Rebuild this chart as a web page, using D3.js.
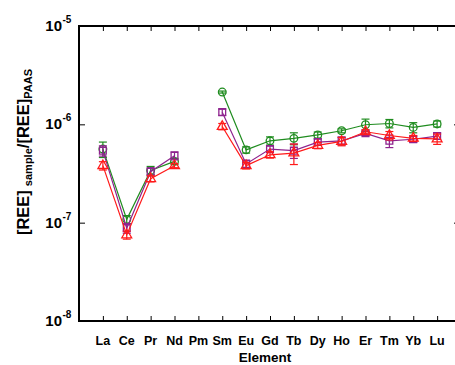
<!DOCTYPE html>
<html>
<head>
<meta charset="utf-8">
<script src="https://cdn.jsdelivr.net/npm/d3@7"></script>
<style>
    html, body { margin: 0; padding: 0; background: #fff; overflow: hidden; }
    svg { display: block; }
    text { font-family: "Liberation Sans", Arial, sans-serif; font-weight: bold; }
</style>
</head>
<body>
<div id="chart"></div>
<script>
// REE elements along the x axis
var elements = ["La", "Ce", "Pr", "Nd", "Pm", "Sm", "Eu", "Gd", "Tb", "Dy", "Ho", "Er", "Tm", "Yb", "Lu"];

// normalised values, in units of 1e-7 (Pm has no data)
var greenValues = [5.6, 1.08, 3.4, 4.2, null, 21.3, 5.5, 6.8, 7.2, 7.8, 8.6, 9.9, 10.2, 9.3, 10.1];
var greenErrors = [1.0, 0.10, 0.33, 0.30, null, 0.5, 0.4, 0.65, 1.0, 0.55, 0.4, 1.4, 1.0, 1.1, 0.7];
var purpleValues = [5.4, 0.88, 3.3, 4.8, null, 13.3, 3.95, 5.6, 5.4, 6.6, 6.8, 8.1, 6.8, 7.05, 7.6];
var purpleErrors = [0.65, 0.10, 0.32, 0.45, null, 0.95, 0.38, 0.4, 0.9, 0.47, 0.65, 0.4, 1.0, 0.5, 0.55];
var redValues = [3.8, 0.75, 2.8, 3.8, null, 9.5, 3.8, 4.9, 5.1, 6.1, 6.7, 8.4, 7.7, 7.2, 7.1];
var redErrors = [0.37, 0.07, 0.2, 0.18, null, 0.7, 0.28, 0.36, 1.2, 0.45, 0.65, 0.4, 0.75, 0.5, 0.85];

var yTicks = [-8, -7, -6, -5];

function init() {
    var w = 455;
    var h = 365;
    var left = 79, top = 26, bottom = 321, right = 461;
    var unit = 1e-7;

    var svg = d3.select("#chart")
        .append("svg")
        .attr("width", w)
        .attr("height", h);

    var xScale = d3.scaleLinear()
        .domain([-1, elements.length])
        .range([left, right]);

    var yScale = d3.scaleLog()
        .domain([1e-8, 1e-5])
        .range([bottom, top]);

    var decades = yTicks.map(function (e) { return Math.pow(10, e); });

    // ticks on all four sides, pointing inward
    svg.append("g")
        .attr("transform", "translate(0," + bottom + ")")
        .call(d3.axisTop(xScale).tickValues(d3.range(elements.length)).tickSize(5).tickFormat(""))
        .call(function (g) { g.select(".domain").remove(); });
    svg.append("g")
        .attr("transform", "translate(0," + top + ")")
        .call(d3.axisBottom(xScale).tickValues(d3.range(elements.length)).tickSize(5).tickFormat(""))
        .call(function (g) { g.select(".domain").remove(); });
    svg.append("g")
        .attr("transform", "translate(" + left + ",0)")
        .call(d3.axisRight(yScale).tickValues(decades).tickSize(6).tickFormat(""))
        .call(function (g) { g.select(".domain").remove(); });
    svg.append("g")
        .attr("transform", "translate(" + right + ",0)")
        .call(d3.axisLeft(yScale).tickValues(decades).tickSize(7).tickFormat(""))
        .call(function (g) { g.select(".domain").remove(); });

    svg.selectAll(".tick line").attr("stroke", "#000").attr("stroke-width", 1);

    // frame
    svg.append("rect")
        .attr("x", left)
        .attr("y", top)
        .attr("width", right - left)
        .attr("height", bottom - top)
        .attr("fill", "none")
        .attr("stroke", "#000")
        .attr("stroke-width", 2);

    // y tick labels 10^n
    var yLab = svg.selectAll(".y-label")
        .data(yTicks)
        .enter()
        .append("text")
        .attr("class", "y-label")
        .attr("x", 62)
        .attr("y", function (d) { return yScale(Math.pow(10, d)) + 5; })
        .attr("text-anchor", "end")
        .attr("font-size", 15);
    yLab.append("tspan").text("10");
    yLab.append("tspan")
        .attr("x", 62.5)
        .attr("dy", -8)
        .attr("text-anchor", "start")
        .attr("font-size", 10)
        .text(function (d) { return d; });

    // x tick labels
    svg.selectAll(".x-label")
        .data(elements)
        .enter()
        .append("text")
        .attr("class", "x-label")
        .attr("x", function (d, i) { return xScale(i); })
        .attr("y", 345)
        .attr("text-anchor", "middle")
        .attr("font-size", 12.5)
        .text(function (d) { return d; });

    svg.append("text")
        .attr("x", 265)
        .attr("y", 362)
        .attr("text-anchor", "middle")
        .attr("font-size", 13.5)
        .text("Element");

    // y axis title
    var yTitle = svg.append("text")
        .attr("transform", "translate(29,152) rotate(-90)")
        .attr("text-anchor", "middle")
        .attr("font-size", 16.5);
    yTitle.append("tspan").text("[REE]");
    yTitle.append("tspan").attr("font-size", 11).attr("dx", 4).attr("dy", 3).text("sample");
    yTitle.append("tspan").attr("dy", -3).text("/[REE]");
    yTitle.append("tspan").attr("font-size", 11).attr("dy", 3).text("PAAS");

    var series = [
        { color: "#1f8c1f", values: greenValues, errors: greenErrors, shape: "circle" },
        { color: "#8e238e", values: purpleValues, errors: purpleErrors, shape: "square" },
        { color: "#ff1a1a", values: redValues, errors: redErrors, shape: "triangle" }
    ];

    var line = d3.line()
        .defined(function (d) { return d.v !== null; })
        .x(function (d) { return xScale(d.i); })
        .y(function (d) { return yScale(d.v * unit); });

    series.forEach(function (s) {
        var pts = s.values.map(function (v, i) { return { i: i, v: v, e: s.errors[i] }; });
        var valid = pts.filter(function (d) { return d.v !== null; });
        var g = svg.append("g");

        g.append("path")
            .datum(pts)
            .attr("d", line)
            .attr("fill", "none")
            .attr("stroke", s.color)
            .attr("stroke-width", 1.2);

        // error bars
        var eb = g.selectAll(".err")
            .data(valid)
            .enter()
            .append("g")
            .attr("stroke", s.color)
            .attr("stroke-width", 1.2);
        eb.append("line")
            .attr("x1", function (d) { return xScale(d.i); })
            .attr("x2", function (d) { return xScale(d.i); })
            .attr("y1", function (d) { return yScale((d.v + d.e) * unit); })
            .attr("y2", function (d) { return yScale((d.v - d.e) * unit); });
        eb.append("line")
            .attr("x1", function (d) { return xScale(d.i) - 4; })
            .attr("x2", function (d) { return xScale(d.i) + 4; })
            .attr("y1", function (d) { return yScale((d.v + d.e) * unit); })
            .attr("y2", function (d) { return yScale((d.v + d.e) * unit); });
        eb.append("line")
            .attr("x1", function (d) { return xScale(d.i) - 4; })
            .attr("x2", function (d) { return xScale(d.i) + 4; })
            .attr("y1", function (d) { return yScale((d.v - d.e) * unit); })
            .attr("y2", function (d) { return yScale((d.v - d.e) * unit); });

        // markers
        var sym = s.shape === "circle" ? d3.symbolCircle : (s.shape === "square" ? d3.symbolSquare : d3.symbolTriangle);
        g.selectAll(".mark")
            .data(valid)
            .enter()
            .append("path")
            .attr("transform", function (d) { return "translate(" + xScale(d.i) + "," + yScale(d.v * unit) + ")"; })
            .attr("d", d3.symbol().type(sym).size(s.shape === "triangle" ? 42 : 46))
            .attr("fill", "none")
            .attr("stroke", s.color)
            .attr("stroke-width", 1.3);
    });
}

window.onload = init;
</script>
</body>
</html>
